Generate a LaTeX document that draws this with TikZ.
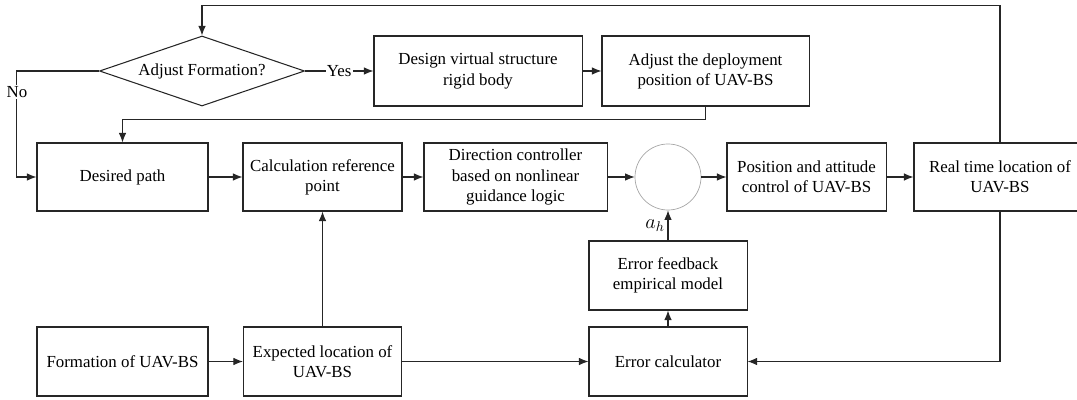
\documentclass[tikz,border=0pt]{standalone}
\usepackage{fontspec}
\setmainfont{Liberation Serif}
\usetikzlibrary{positioning,shapes.geometric,arrows.meta,calc}
\begin{document}
\begin{tikzpicture}[x=0.025cm,y=-0.025cm]
  \tikzstyle{txt}=[font=\fontsize{12}{14.3}\selectfont]
  \tikzstyle{blk}=[draw=black!85,line width=.75pt,rectangle,align=center,inner sep=2pt,txt]
  \tikzstyle{dec}=[draw=black!85,line width=.75pt,diamond,aspect=2.9,inner sep=0pt,minimum width=5.125cm,minimum height=1.75cm,txt]
  \tikzstyle{sumc}=[draw=black!35,line width=.5pt,circle,minimum size=1.65cm,inner sep=0pt]
  \tikzstyle{ar}=[draw=black!85,line width=.75pt,-{Latex[length=2.4mm,width=1.9mm]}]
  \tikzstyle{lbl}=[fill=white,inner sep=1pt,txt]
  \useasboundingbox (0,0) rectangle (1077,400);
  % top row
  \node [dec] (adjf) at (202,71) {Adjust Formation?};
  \node [blk,minimum width=5.2cm,minimum height=1.75cm] (design) at (478,71) {Design virtual structure\\rigid body};
  \node [blk,minimum width=5.175cm,minimum height=1.75cm] (adjust) at (705.5,71) {Adjust the deployment\\position of UAV-BS};
  % control loop
  \node [blk,minimum width=4.275cm,minimum height=1.7cm] (dpath) at (122.5,177) {Desired path};
  \node [blk,minimum width=3.975cm,minimum height=1.7cm] (calc) at (322.5,177) {Calculation reference\\point};
  \node [blk,minimum width=4.575cm,minimum height=1.7cm] (dir) at (515.5,177) {Direction controller\\based on nonlinear\\guidance logic};
  \node [sumc] (sum) at (668,177) {};
  \node [blk,minimum width=3.975cm,minimum height=1.7cm] (pos) at (806.5,177) {Position and attitude\\control of UAV-BS};
  \node [blk,minimum width=4.3cm,minimum height=1.7cm] (real) at (1000,177) {Real time location of\\UAV-BS};
  % error feedback
  \node [blk,minimum width=3.95cm,minimum height=1.725cm] (efb) at (668,275.5) {Error feedback\\empirical model};
  \node [blk,minimum width=3.95cm,minimum height=1.725cm] (ecal) at (668,361.5) {Error calculator};
  \node [blk,minimum width=4.275cm,minimum height=1.725cm] (form) at (122.5,361.5) {Formation of UAV-BS};
  \node [blk,minimum width=3.95cm,minimum height=1.725cm] (exp) at (322.5,361.5) {Expected location of\\UAV-BS};
  % connectors
  \draw [ar] (adjf) -- node [lbl] {Yes} (design);
  \draw [ar] (design) -- (adjust);
  \draw [ar] (adjust.south) -- ++(0,13) -| (dpath.north);
  \draw [ar] (adjf.west) -- ++(-82,0) |- node [lbl,pos=.1] {No} (dpath.west);
  \draw [ar] (dpath) -- (calc);
  \draw [ar] (calc) -- (dir);
  \draw [ar] (dir) -- (sum);
  \draw [ar] (sum) -- (pos);
  \draw [ar] (pos) -- (real);
  \draw [ar] (real.north) -- ++(0,-137) -| (adjf.north);
  \draw [ar] (form) -- (exp);
  \draw [ar] (exp) -- (calc);
  \draw [ar] (exp) -- (ecal);
  \draw [ar] (real.south) |- (ecal.east);
  \draw [ar] (ecal) -- (efb);
  \draw [ar] (efb.north) -- node [left,inner sep=2pt,font=\fontsize{14}{16}\selectfont] {$a_h$} (sum.south);
\end{tikzpicture}
\end{document}
